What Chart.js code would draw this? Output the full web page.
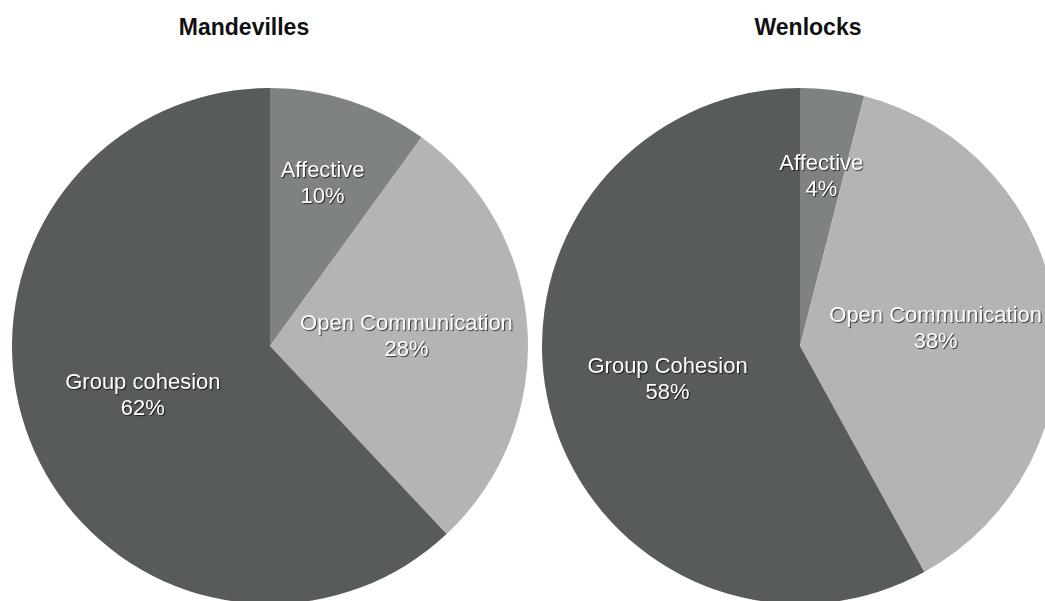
<!DOCTYPE html>
<html>
<head>
<meta charset="utf-8">
<script src="https://cdn.jsdelivr.net/npm/chart.js@4.4.0/dist/chart.umd.min.js"></script>
<style>
  html, body { margin: 0; padding: 0; background: #ffffff; overflow: hidden; width: 1045px; height: 601px; }
  .title { position: absolute; top: 14px; width: 300px; text-align: center; font: bold 23px "Liberation Sans", Arial, sans-serif; color: #111; }
  .box { position: absolute; top: 88px; width: 516px; height: 516px; }
</style>
</head>
<body>
<div class="title" style="left:94px">Mandevilles</div>
<div class="title" style="left:658px">Wenlocks</div>
<div class="box" style="left:12px"><canvas id="pieLeft"></canvas></div>
<div class="box" style="left:542px"><canvas id="pieRight"></canvas></div>
<script>
// data
var mandevillesLabels = ["Affective", "Open Communication", "Group cohesion"];
var mandevillesValues = [10, 28, 62];
var wenlocksLabels = ["Affective", "Open Communication", "Group Cohesion"];
var wenlocksValues = [4, 38, 58];
var sliceColors = ["#7e8280", "#b4b4b4", "#575b59"];

// white labels with a little shadow, placed along each slice's middle angle
const sliceLabels = {
  id: 'sliceLabels',
  afterDatasetsDraw: (chart) => {
    const {ctx} = chart;
    const meta = chart.getDatasetMeta(0);
    const values = chart.data.datasets[0].data;
    const total = values.reduce((a, b) => a + b, 0);
    ctx.save();
    ctx.font = '22px "Liberation Sans", Arial, sans-serif';
    ctx.textAlign = 'center';
    ctx.textBaseline = 'middle';
    ctx.fillStyle = '#ffffff';
    ctx.shadowColor = 'rgba(0,0,0,0.7)';
    ctx.shadowOffsetX = 1;
    ctx.shadowOffsetY = 1;
    ctx.shadowBlur = 1;
    meta.data.forEach((arc, i) => {
      const mid = (arc.startAngle + arc.endAngle) / 2;
      const frac = values[i] / total < 0.15 ? 0.66 : 0.53;
      const x = arc.x + Math.cos(mid) * arc.outerRadius * frac;
      const y = arc.y + Math.sin(mid) * arc.outerRadius * frac;
      ctx.fillText(chart.data.labels[i], x, y - 13);
      ctx.fillText(values[i] + '%', x, y + 13);
    });
    ctx.restore();
  }
};

function makePie(id, labels, values) {
  new Chart(document.getElementById(id), {
    type: "pie",
    data: {
      labels: labels,
      datasets: [{
        data: values,
        backgroundColor: sliceColors,
        borderWidth: 0,
        hoverOffset: 0
      }]
    },
    options: {
      responsive: true,
      maintainAspectRatio: false,
      animation: false,
      events: [],
      layout: { padding: 0 },
      plugins: {
        legend: { display: false },
        tooltip: { enabled: false }
      }
    },
    plugins: [sliceLabels]
  });
}

makePie("pieLeft", mandevillesLabels, mandevillesValues);
makePie("pieRight", wenlocksLabels, wenlocksValues);
</script>
</body>
</html>
